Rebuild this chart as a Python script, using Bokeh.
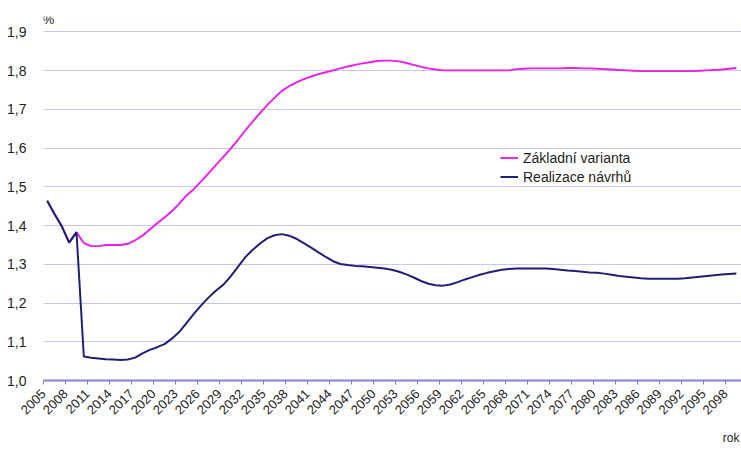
from bokeh.plotting import figure
from bokeh.models import (ColumnDataSource, FixedTicker, CustomJSTickFormatter, Label,
                          Legend, LegendItem, Range1d, Title)
from bokeh.embed import file_html
from bokeh.resources import INLINE

years = list(range(2005, 2100))

zakladni_varianta = [
    1.464, 1.430, 1.398, 1.356, 1.383, 1.355, 1.347, 1.347, 1.350, 1.350,
    1.350, 1.353, 1.362, 1.374, 1.390, 1.406, 1.421, 1.437, 1.456, 1.478,
    1.494, 1.514, 1.535, 1.556, 1.577, 1.598, 1.621, 1.645, 1.668, 1.690,
    1.711, 1.730, 1.748, 1.760, 1.770, 1.778, 1.785, 1.791, 1.796, 1.801,
    1.806, 1.811, 1.815, 1.819, 1.822, 1.825, 1.826, 1.826, 1.824, 1.820,
    1.815, 1.810, 1.806, 1.803, 1.801, 1.801, 1.801, 1.801, 1.801, 1.801,
    1.801, 1.801, 1.801, 1.801, 1.804, 1.805, 1.806, 1.806, 1.806, 1.806,
    1.806, 1.807, 1.807, 1.806, 1.806, 1.805, 1.804, 1.803, 1.802, 1.801,
    1.800, 1.799, 1.799, 1.799, 1.799, 1.799, 1.799, 1.799, 1.799, 1.800,
    1.801, 1.802, 1.803, 1.805, 1.807,
]

realizace_navrhu = [
    1.464, 1.430, 1.398, 1.356, 1.383, 1.062, 1.059, 1.057, 1.055, 1.054,
    1.053, 1.054, 1.059, 1.070, 1.079, 1.086, 1.094, 1.108, 1.125, 1.148,
    1.172, 1.194, 1.214, 1.232, 1.247, 1.268, 1.293, 1.318, 1.337, 1.353,
    1.367, 1.375, 1.378, 1.374, 1.366, 1.355, 1.343, 1.331, 1.319, 1.308,
    1.301, 1.298, 1.296, 1.295, 1.293, 1.291, 1.289, 1.286, 1.281, 1.274,
    1.266, 1.257, 1.250, 1.246, 1.245, 1.248, 1.254, 1.261, 1.267, 1.273,
    1.278, 1.282, 1.286, 1.288, 1.289, 1.289, 1.289, 1.289, 1.289, 1.288,
    1.286, 1.284, 1.283, 1.281, 1.279, 1.278, 1.276, 1.273, 1.270, 1.268,
    1.266, 1.264, 1.263, 1.263, 1.263, 1.263, 1.263, 1.264, 1.266, 1.268,
    1.270, 1.272, 1.274, 1.275, 1.276,
]

y_ticks = [1.0, 1.1, 1.2, 1.3, 1.4, 1.5, 1.6, 1.7, 1.8, 1.9]
x_tick_years = list(range(2005, 2099, 3))

series_names = ["Základní varianta", "Realizace návrhů"]
series_colors = ["#ec1cec", "#1f1f78"]

FONT = "Liberation Sans"
TEXT_COLOR = "#1e1e1e"

# category centres (Excel style: points sit in the middle of each year slot)
x_centres = [y + 0.5 for y in years]
src = ColumnDataSource(dict(x=x_centres, zak=zakladni_varianta, real=realizace_navrhu))

p = figure(width=741, height=452, output_backend="svg", toolbar_location=None,
           x_range=Range1d(2005, 2100.2), y_range=Range1d(1.0, 1.94),
           min_border_left=43, min_border_right=0, min_border_top=16, min_border_bottom=70)
p.outline_line_color = None
p.background_fill_color = "white"
p.border_fill_color = "white"

r1 = p.line("x", "zak", source=src, line_color=series_colors[0], line_width=1.9)
r2 = p.line("x", "real", source=src, line_color=series_colors[1], line_width=2.0)

# axes
p.xaxis.ticker = FixedTicker(ticks=x_tick_years)
p.xaxis.major_label_orientation = 0.785398
p.xaxis.major_label_text_font = FONT
p.xaxis.major_label_text_font_size = "13px"
p.xaxis.major_label_text_color = TEXT_COLOR
p.xaxis.major_label_standoff = 7
p.xaxis.axis_line_color = "#8080e0"
p.xaxis.axis_line_width = 2
p.xaxis.major_tick_line_color = "#8080e0"
p.xaxis.major_tick_out = 4
p.xaxis.major_tick_in = 0
p.xaxis.minor_tick_line_color = None

p.yaxis.ticker = FixedTicker(ticks=y_ticks)
p.yaxis.formatter = CustomJSTickFormatter(code="return tick.toFixed(1).replace('.', ',');")
p.yaxis.major_label_text_font = FONT
p.yaxis.major_label_text_font_size = "14px"
p.yaxis.major_label_text_color = TEXT_COLOR
p.yaxis.major_label_standoff = 11
p.yaxis.axis_line_color = None
p.yaxis.major_tick_line_color = None
p.yaxis.minor_tick_line_color = None

p.xgrid.grid_line_color = None
p.ygrid.ticker = FixedTicker(ticks=y_ticks[1:])
p.ygrid.grid_line_color = "#8c8cf0"
p.ygrid.grid_line_dash = "1 1"
p.ygrid.grid_line_width = 1

# unit labels
p.add_layout(Label(x=2004.9, y=1.931, text="%", text_font=FONT, text_font_size="13px",
                   text_color=TEXT_COLOR, text_baseline="middle", text_align="left"))
p.add_layout(Title(text="rok", align="right", text_font=FONT, text_font_size="12px",
                   text_font_style="normal", text_color=TEXT_COLOR, standoff=15, offset=2),
             "below")

legend = Legend(items=[LegendItem(label=series_names[0], renderers=[r1]),
                       LegendItem(label=series_names[1], renderers=[r2])],
                location=(457, 194), padding=0, margin=0, spacing=0,
                glyph_width=18, glyph_height=19, label_height=19, label_standoff=5,
                label_text_font=FONT, label_text_font_size="14px", label_text_color=TEXT_COLOR,
                border_line_alpha=0, background_fill_alpha=0)
p.add_layout(legend)

open("out.html", "w").write(file_html(p, INLINE))
